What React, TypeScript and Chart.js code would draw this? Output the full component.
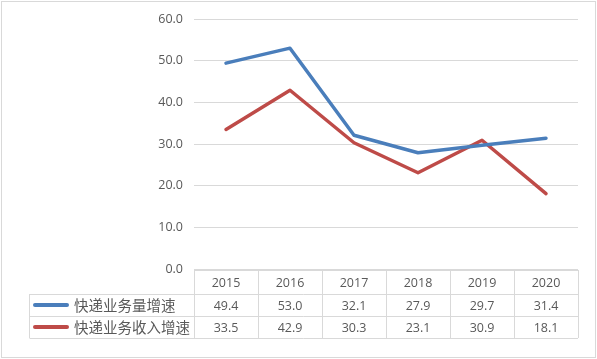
import React, { useEffect, useRef } from "react";
import { Chart, registerables } from "chart.js";

Chart.register(...registerables);

const categories = ["2015", "2016", "2017", "2018", "2019", "2020"];
const seriesNames = ["快递业务量增速", "快递业务收入增速"];
const volumeGrowth = [49.4, 53.0, 32.1, 27.9, 29.7, 31.4];
const revenueGrowth = [33.5, 42.9, 30.3, 23.1, 30.9, 18.1];
const colors = ["#4A7EBB", "#BE4B48"];

const TEXT = "#595959";
const GRID = "#D9D9D9";
const NUM_FONT = "12.5px 'Open Sans', 'Liberation Sans', sans-serif";
const CJK_FONT = "14.5px 'Noto Sans CJK SC', sans-serif";

const tablePlugin = {
  id: "dataTable",
  afterDraw(chart: any) {
    const ctx = chart.ctx;
    const { left, right, bottom } = chart.chartArea;
    const xs = chart.scales.x;
    const colW = (right - left) / categories.length;
    const top = bottom + 1;
    const headH = 24;
    const rowH = 22;
    const legendLeft = 29.5;
    ctx.save();
    // outer border
    ctx.strokeStyle = GRID;
    ctx.lineWidth = 1;
    ctx.strokeRect(1.5, 1.5, chart.width - 3, chart.height - 3);

    ctx.strokeStyle = GRID;
    ctx.beginPath();
    // header top
    ctx.moveTo(left, top + 0.5);
    ctx.lineTo(right, top + 0.5);
    // row lines
    for (let r = 0; r <= 2; r++) {
      const y = Math.round(top + headH + r * rowH) + 0.5;
      ctx.moveTo(legendLeft, y);
      ctx.lineTo(right, y);
    }
    // vertical lines
    const tableBottom = top + headH + 2 * rowH;
    ctx.moveTo(legendLeft, top + headH);
    ctx.lineTo(legendLeft, tableBottom);
    for (let c = 0; c <= categories.length; c++) {
      const x = Math.round(left + c * colW) + 0.5;
      ctx.moveTo(x, top);
      ctx.lineTo(x, tableBottom);
    }
    ctx.stroke();

    ctx.fillStyle = TEXT;
    ctx.textAlign = "center";
    ctx.textBaseline = "middle";
    ctx.font = NUM_FONT;
    categories.forEach((c, i) => {
      ctx.fillText(c, xs.getPixelForValue(i), top + headH / 2 + 1);
    });
    const rows = [volumeGrowth, revenueGrowth];
    rows.forEach((vals, r) => {
      const cy = top + headH + r * rowH + rowH / 2;
      ctx.font = NUM_FONT;
      ctx.textAlign = "center";
      ctx.fillStyle = TEXT;
      vals.forEach((v, i) => {
        ctx.fillText(v.toFixed(1), xs.getPixelForValue(i), cy + 1);
      });
      // legend
      ctx.strokeStyle = colors[r];
      ctx.lineWidth = 4;
      ctx.lineCap = "round";
      ctx.beginPath();
      ctx.moveTo(35, cy);
      ctx.lineTo(67, cy);
      ctx.stroke();
      ctx.font = CJK_FONT;
      ctx.textAlign = "left";
      ctx.fillStyle = TEXT;
      ctx.fillText(seriesNames[r], 74, cy);
    });
    ctx.restore();
  },
};

export default function App() {
  const ref = useRef<HTMLCanvasElement>(null);
  useEffect(() => {
    const chart = new Chart(ref.current as HTMLCanvasElement, {
      type: "line",
      data: {
        labels: categories,
        datasets: [
          {
            label: seriesNames[0],
            data: volumeGrowth,
            borderColor: colors[0],
            backgroundColor: colors[0],
            borderWidth: 3.5,
            pointRadius: 0,
            tension: 0,
            borderCapStyle: "round",
            borderJoinStyle: "round",
          },
          {
            label: seriesNames[1],
            data: revenueGrowth,
            borderColor: colors[1],
            backgroundColor: colors[1],
            borderWidth: 3.5,
            pointRadius: 0,
            tension: 0,
            borderCapStyle: "round",
            borderJoinStyle: "round",
          },
        ],
      },
      options: {
        animation: false,
        responsive: false,
        layout: { padding: { top: 19, bottom: 90, right: 19, left: 0 } },
        plugins: { legend: { display: false }, tooltip: { enabled: false } },
        scales: {
          x: { display: false, offset: true },
          y: {
            min: 0,
            max: 60,
            ticks: {
              stepSize: 10,
              padding: 11,
              color: TEXT,
              font: { size: 12.5, family: "'Open Sans', 'Liberation Sans', sans-serif" },
              callback: (v: any) => Number(v).toFixed(1),
            },
            grid: { color: GRID, drawTicks: false },
            border: { display: false },
            afterFit: (s: any) => {
              s.width = 194;
            },
          },
        },
      },
      plugins: [tablePlugin],
    });
    return () => chart.destroy();
  }, []);
  return (
    <div style={{ position: "absolute", left: 0, top: 0, width: 597, height: 359, background: "#fff" }}>
      <canvas ref={ref} width={597} height={359} style={{ width: 597, height: 359 }} />
    </div>
  );
}
